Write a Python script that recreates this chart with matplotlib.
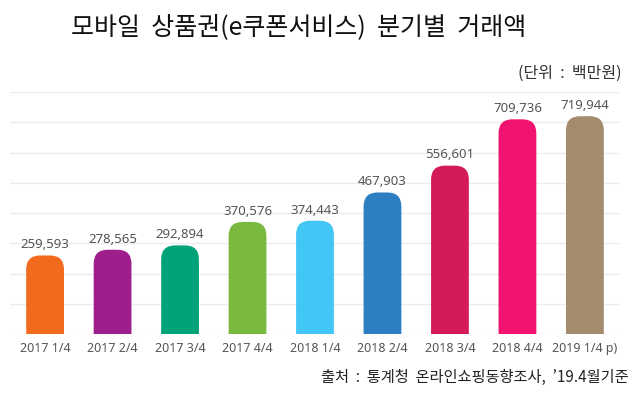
import matplotlib
matplotlib.use('Agg')
import matplotlib.pyplot as plt
from matplotlib.patches import FancyBboxPatch

plt.rcParams['font.family'] = ['Noto Sans CJK KR', 'DejaVu Sans']
num_font = ['Noto Sans', 'Noto Sans CJK KR']

# 분기별 거래액 (단위: 백만원)
quarters = ['2017 1/4', '2017 2/4', '2017 3/4', '2017 4/4', '2018 1/4',
            '2018 2/4', '2018 3/4', '2018 4/4', '2019 1/4 p)']
amounts = [259593, 278565, 292894, 370576, 374443, 467903, 556601, 709736, 719944]
bar_colors = ['#F26A1E', '#9E1F8C', '#00A27A', '#79B940', '#41C6F6',
              '#2E7FC2', '#D51A5C', '#F2126F', '#A58B6E']

fig = plt.figure(figsize=(6.32, 3.93), dpi=100)
ax = fig.add_axes([10 / 632, 59 / 393, 610 / 632, 242 / 393])

ax.set_xlim(-0.52, len(quarters) - 0.48)
ax.set_ylim(0, 800000)
ax.set_yticks(range(0, 800001, 100000))
ax.yaxis.grid(True, color='#ececec', lw=1)
ax.set_axisbelow(True)
ax.tick_params(axis='y', left=False, labelleft=False)
for s in ax.spines.values():
    s.set_visible(False)

bars = ax.bar(range(len(quarters)), amounts, width=0.56, color='none')

# 둥근 막대 윗부분
fig.canvas.draw()
bb = ax.get_window_extent()
ppx = bb.width / (ax.get_xlim()[1] - ax.get_xlim()[0])
ppy = bb.height / (ax.get_ylim()[1] - ax.get_ylim()[0])
r = 14  # px
for bar, c in zip(bars, bar_colors):
    x0, w, h = bar.get_x(), bar.get_width(), bar.get_height()
    ry = r / ppy
    p = FancyBboxPatch((x0, -ry), w, h + ry,
                       boxstyle=f'round,pad=0,rounding_size={r / ppx}',
                       mutation_aspect=ppx / ppy, fc=c, ec='none', zorder=3)
    ax.add_patch(p)
    ax.annotate(f'{h:,.0f}', (bar.get_x() + w / 2, h), xytext=(0, 3),
                textcoords='offset points', ha='center', va='bottom',
                fontsize=9.5, color='#555555', family=num_font)

ax.set_xticks(range(len(quarters)))
ax.set_xticklabels(quarters, family=num_font)
ax.tick_params(axis='x', length=0, pad=6, labelsize=9, labelcolor='#555555')

fig.text(299 / 632, 1 - 27 / 393, '모바일  상품권(e쿠폰서비스)  분기별  거래액',
         ha='center', va='center', fontsize=18, color='#111111')
fig.text(622 / 632, 1 - 73 / 393, '(단위  :  백만원)', ha='right', va='center',
         fontsize=11.5, color='#333333')
fig.text(629 / 632, 1 - 377 / 393, '출처  :  통계청  온라인쇼핑동향조사,  ’19.4월기준',
         ha='right', va='center', fontsize=11, color='#222222')

fig.savefig('out.png', dpi=100, facecolor='white')
